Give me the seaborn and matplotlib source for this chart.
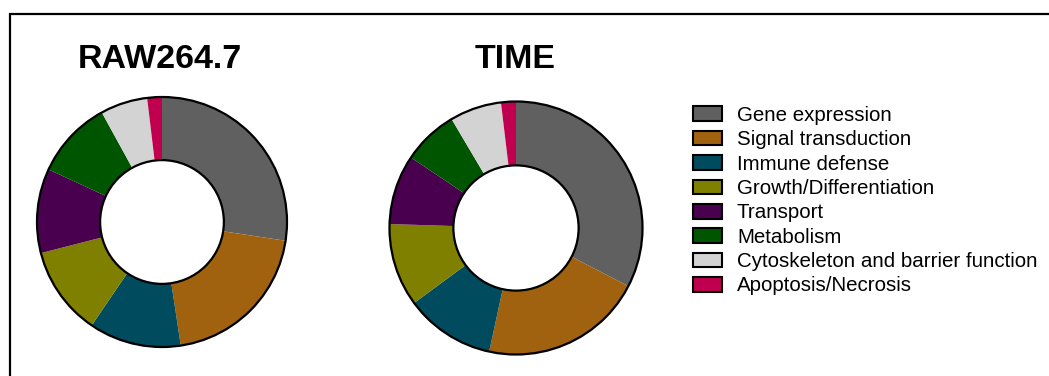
import matplotlib
matplotlib.use("Agg")
import matplotlib.pyplot as plt
from matplotlib.patches import Patch, Circle, Rectangle
import seaborn as sns

categories = ["Gene expression", "Signal transduction", "Immune defense",
              "Growth/Differentiation", "Transport", "Metabolism",
              "Cytoskeleton and barrier function", "Apoptosis/Necrosis"]
raw_values = [27.4, 20.2, 11.9, 11.5, 10.9, 10.1, 6.1, 1.9]
time_values = [32.6, 20.8, 11.5, 10.6, 8.9, 7.1, 6.6, 1.9]
titles = ["RAW264.7", "TIME"]
hex_colors = ["#606060", "#A0620E", "#004C5E", "#808000",
              "#48004F", "#005500", "#D3D3D3", "#C0004F"]

sns.set_theme(style="white")
plt.rcParams['font.family'] = ['Liberation Sans', 'DejaVu Sans']
plt.rcParams['text.color'] = 'black'
palette = sns.color_palette(hex_colors)

W, H = 1049, 376
fig = plt.figure(figsize=(W / 100, H / 100), dpi=100)
fig.patch.set_facecolor("white")

# frame (top and left lines)
fig.add_artist(Rectangle((10 / W, -0.1), 1.2, (H - 14) / H + 0.1,
                         transform=fig.transFigure, fill=False,
                         edgecolor="black", linewidth=1.6))

def donut(cx, cy, r, values, title, title_x):
    pad = 1.06
    half = r * pad
    ax = fig.add_axes([(cx - half) / W, (H - cy - half) / H,
                       2 * half / W, 2 * half / H])
    ax.pie(values, colors=palette, startangle=90, counterclock=False,
           radius=1.0, wedgeprops=dict(width=0.505, linewidth=0))
    ax.add_patch(Circle((0, 0), 1.0, fill=False, edgecolor="black", linewidth=1.6))
    ax.add_patch(Circle((0, 0), 0.495, fill=False, edgecolor="black", linewidth=1.6))
    ax.set_xlim(-pad, pad)
    ax.set_ylim(-pad, pad)
    ax.set_aspect("equal")
    ax.axis("off")
    fig.text(title_x / W, (H - 59) / H, title, ha="center", va="center",
             fontsize=24.5, fontweight="bold", color="black")

donut(162, 222, 125, raw_values, titles[0], 160)
donut(516, 228, 126.5, time_values, titles[1], 515)

handles = [Patch(facecolor=c, edgecolor="black", linewidth=1.5) for c in palette]
fs = 14.8
fig.legend(handles, categories, loc="upper left",
           bbox_to_anchor=(693 / W, (H - 106) / H), frameon=False,
           fontsize=fs, handlelength=1.42, handleheight=0.72,
           handletextpad=0.72, labelspacing=0.26, borderpad=0,
           borderaxespad=0, labelcolor="black")

fig.savefig("out.png", dpi=100, facecolor="white")
